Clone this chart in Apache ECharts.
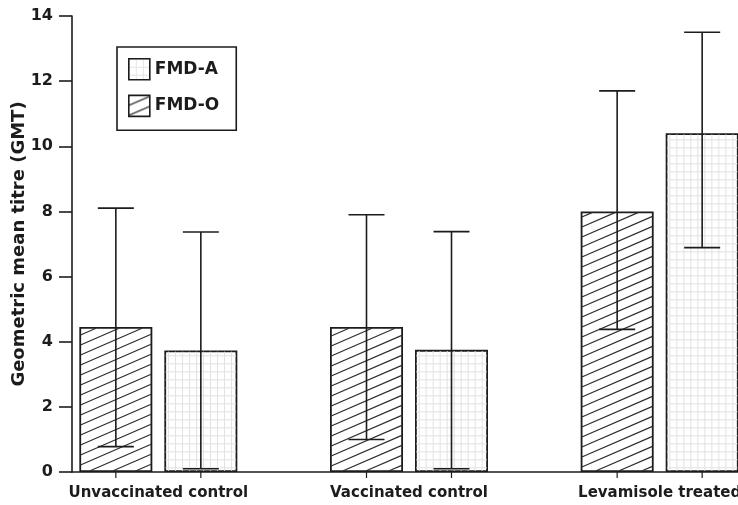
<!DOCTYPE html>
<html>
<head>
<meta charset="utf-8">
<script src="https://cdn.jsdelivr.net/npm/echarts@6/dist/echarts.min.js"></script>
<style>
html,body{margin:0;padding:0;background:#fff;}
#chart{width:738px;height:505px;}
</style>
</head>
<body>
<div id="chart"></div>
<script>
// ---- data ----
const categories = ['Unvaccinated control', 'Vaccinated control', 'Levamisole treated'];
const legendNames = ['FMD-A', 'FMD-O'];
const fmdO = [4.45, 4.45, 8.0];
const fmdOLow = [0.78, 1.0, 4.38];
const fmdOHigh = [8.1, 7.9, 11.7];
const fmdA = [3.73, 3.75, 10.4];
const fmdALow = [0.1, 0.1, 6.89];
const fmdAHigh = [7.37, 7.38, 13.5];
const yMin = 0, yMax = 14, yStep = 2;
const yTitle = 'Geometric mean titre (GMT)';

// ---- styles ----
const INK = '#1c1c1c';
const FONT = 'DejaVu Sans';
const BAR_W = 73, BAR_GAP = 12, CAP_W = 36;
const HATCH_STEP = 10, HATCH_SLOPE = 10 / 23;
const GRID_DX = 7, GRID_DY = 8;

function hatchPattern() {
  const w = 23, h = 10;
  const c = document.createElement('canvas');
  c.width = w; c.height = h;
  const g = c.getContext('2d');
  g.fillStyle = '#fff'; g.fillRect(0, 0, w, h);
  g.strokeStyle = '#2e2e2e'; g.lineWidth = 1.2;
  for (let k = -1; k <= 1; k++) {
    g.beginPath(); g.moveTo(0, h + h * k); g.lineTo(w, h * k); g.stroke();
  }
  return c;
}
function dotPattern() {
  const w = 7, h = 8;
  const c = document.createElement('canvas');
  c.width = w; c.height = h;
  const g = c.getContext('2d');
  g.fillStyle = '#fff'; g.fillRect(0, 0, w, h);
  g.fillStyle = '#e6e6e6';
  g.fillRect(0, 0, w, 1);
  g.fillRect(0, 0, 1, h);
  return c;
}

// fill texture + error bar + axis tick for one bar, all from the axis scales
function barDecor(sign, kind) {
  return function (params, api) {
    const i = api.value(0);
    const base = api.coord([i, 0]);
    const top = api.coord([i, api.value(1)]);
    const lo = api.coord([i, api.value(2)]);
    const hi = api.coord([i, api.value(3)]);
    const cx = base[0] + sign * (BAR_W + BAR_GAP) / 2;
    const xl = cx - BAR_W / 2 + 1.2, xr = cx + BAR_W / 2 - 1.2;
    const yt = top[1] + 1.2, yb = base[1] - 1.2;
    const children = [];
    if (kind === 'hatch') {
      const s = HATCH_SLOPE;
      const cStart = Math.floor((yt + s * xl) / HATCH_STEP) * HATCH_STEP;
      const cEnd = yb + s * xr;
      for (let c = cStart; c <= cEnd; c += HATCH_STEP) {
        const x1 = Math.max(xl, (c - yb) / s);
        const x2 = Math.min(xr, (c - yt) / s);
        if (x2 > x1) {
          children.push({ type: 'line', shape: { x1: x1, y1: c - s * x1, x2: x2, y2: c - s * x2 },
            style: { stroke: '#2e2e2e', lineWidth: 1.25 } });
        }
      }
    } else {
      for (let x = xl + 3; x < xr; x += GRID_DX) {
        children.push({ type: 'line', shape: { x1: x, y1: yt, x2: x, y2: yb }, style: { stroke: '#e2e2e2', lineWidth: 1 } });
      }
      for (let y = yb - 3; y > yt; y -= GRID_DY) {
        children.push({ type: 'line', shape: { x1: xl, y1: y, x2: xr, y2: y }, style: { stroke: '#e2e2e2', lineWidth: 1 } });
      }
    }
    const st = { stroke: INK, lineWidth: 1.6 };
    children.push(
      { type: 'line', shape: { x1: cx, y1: hi[1], x2: cx, y2: lo[1] }, style: st },
      { type: 'line', shape: { x1: cx - CAP_W / 2, y1: hi[1], x2: cx + CAP_W / 2, y2: hi[1] }, style: st },
      { type: 'line', shape: { x1: cx - CAP_W / 2, y1: lo[1], x2: cx + CAP_W / 2, y2: lo[1] }, style: st },
      { type: 'line', shape: { x1: cx, y1: base[1], x2: cx, y2: base[1] + 6 }, style: { stroke: INK, lineWidth: 1.2 } }
    );
    return { type: 'group', children: children };
  };
}

const chart = echarts.init(document.getElementById('chart'), null, { renderer: 'canvas' });
chart.setOption({
  animation: false,
  backgroundColor: '#fff',
  textStyle: { fontFamily: FONT, color: INK },
  grid: [
    { left: 72, right: 0, top: 16, bottom: 33, outerBoundsMode: 'none', containLabel: false },
    { left: 33, width: 752, top: 16, bottom: 33, outerBoundsMode: 'none', containLabel: false }
  ],
  legend: {
    data: [
      { name: legendNames[0], itemStyle: { color: { image: dotPattern(), repeat: 'repeat' }, borderColor: INK, borderWidth: 1.6 } },
      { name: legendNames[1], itemStyle: { color: { image: hatchPattern(), repeat: 'repeat' }, borderColor: INK, borderWidth: 1.6 } }
    ],
    orient: 'vertical',
    left: 117, top: 47,
    padding: [11, 17, 13, 11],
    itemWidth: 21, itemHeight: 21, itemGap: 14,
    borderColor: INK, borderWidth: 1.6,
    icon: 'rect',
    textStyle: { fontFamily: FONT, fontWeight: 'bold', fontSize: 17, color: INK }
  },
  xAxis: [
    {
      type: 'value', gridIndex: 0, min: 0, max: 1,
      axisLine: { show: true, lineStyle: { color: INK, width: 1.6 } },
      axisTick: { show: false }, axisLabel: { show: false }, splitLine: { show: false }
    },
    {
      type: 'category', gridIndex: 1, data: categories,
      axisLine: { show: false }, axisTick: { show: false }, splitLine: { show: false },
      axisLabel: { margin: 14, fontFamily: FONT, fontWeight: 'bold', fontSize: 15, color: INK }
    }
  ],
  yAxis: [
    {
      type: 'value', gridIndex: 0, min: yMin, max: yMax, interval: yStep,
      name: yTitle, nameLocation: 'middle', nameGap: 44, nameMoveOverlap: false,
      nameTextStyle: { fontFamily: FONT, fontWeight: 'bold', fontSize: 18, color: INK },
      axisLine: { show: true, lineStyle: { color: INK, width: 1.6 } },
      axisTick: { show: true, length: 13, lineStyle: { color: INK, width: 1.6 } },
      axisLabel: { margin: 19, fontFamily: FONT, fontWeight: 'bold', fontSize: 16, color: INK },
      splitLine: { show: false }
    },
    { type: 'value', gridIndex: 1, min: yMin, max: yMax, show: false }
  ],
  series: [
    {
      name: 'FMD-O', type: 'bar', xAxisIndex: 1, yAxisIndex: 1,
      data: fmdO, barWidth: BAR_W, barGap: (BAR_GAP / BAR_W * 100) + '%',
      itemStyle: { color: '#fff', borderColor: INK, borderWidth: 1.8 }
    },
    {
      name: 'FMD-A', type: 'bar', xAxisIndex: 1, yAxisIndex: 1,
      data: fmdA, barWidth: BAR_W,
      itemStyle: { color: '#fff', borderColor: INK, borderWidth: 1.8 }
    },
    {
      name: 'decorO', type: 'custom', xAxisIndex: 1, yAxisIndex: 1, z: 5, clip: false,
      renderItem: barDecor(-1, 'hatch'),
      data: categories.map((c, i) => [i, fmdO[i], fmdOLow[i], fmdOHigh[i]])
    },
    {
      name: 'decorA', type: 'custom', xAxisIndex: 1, yAxisIndex: 1, z: 5, clip: false,
      renderItem: barDecor(1, 'grid'),
      data: categories.map((c, i) => [i, fmdA[i], fmdALow[i], fmdAHigh[i]])
    }
  ]
});
</script>
</body>
</html>
